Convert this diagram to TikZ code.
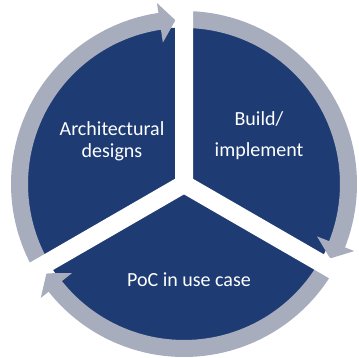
\documentclass[tikz,border=0pt]{standalone}
\usepackage{fontspec}
\setmainfont{Carlito}
\usepackage{tikz}

\definecolor{navy}{RGB}{30,60,115}
\definecolor{ringgray}{RGB}{168,173,189}

% gray ring piece with arrow head: #1 start angle, #2 head base angle, #3 tip angle
\newcommand{\ringarrow}[3]{%
	\fill[ringgray] (#1:173) arc[start angle=#1, end angle=#2, radius=173] -- (#2:183) -- (#3:164) -- (#2:143) -- (#2:156) arc[start angle=#2, end angle=#1, radius=156] -- cycle;}

\begin{document}
\begin{tikzpicture}[x=1pt,y=1pt]
			\useasboundingbox (0,0) rectangle (359,358);
			\begin{scope}[shift={(184,174)}]
				\coordinate (C) at (0,0);
				\fill[navy] (C) circle[radius=156.5];
				\ringarrow{210}{98.5}{93}
				\ringarrow{90}{-21.5}{-27}
				\ringarrow{-30}{-141.5}{-147}
				% white gaps between the three parts
				\draw[white,line width=18pt] (C) -- (90:200) (C) -- (-30:200) (C) -- (210:200);
			\end{scope}
			\node[white,align=center,font=\fontsize{20}{22}\selectfont] (Arch) at (112,217) {Architectural\\designs};
			\node[white,align=center,font=\fontsize{20}{31}\selectfont] (Build) at (259,222) {Build/\\implement};
			\node[white,font=\fontsize{20}{24}\selectfont] (PoC) at (189,78) {PoC in use case};
		\end{tikzpicture}
\end{document}
